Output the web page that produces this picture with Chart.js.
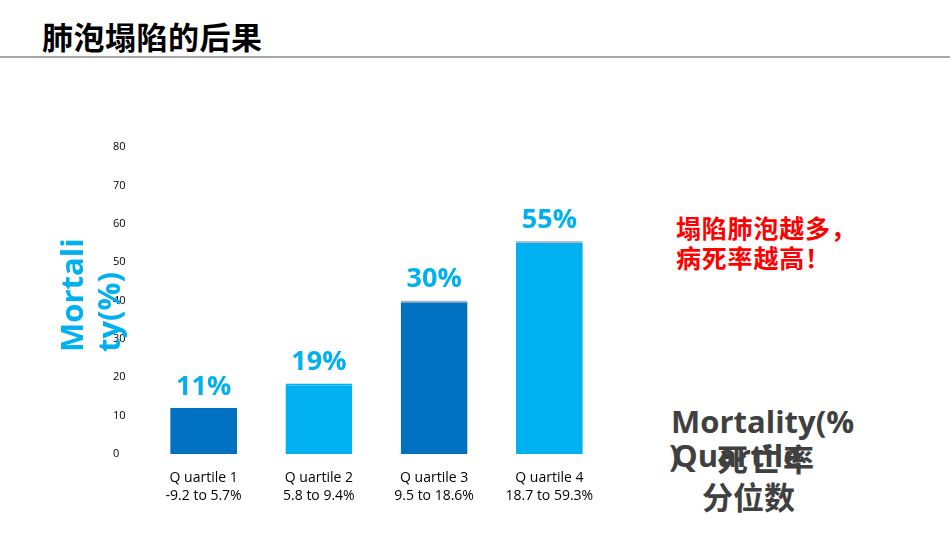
<!DOCTYPE html>
<html>
<head>
<meta charset="utf-8">
<script src="https://cdn.jsdelivr.net/npm/chart.js@4"></script>
<style>
  html, body { margin:0; padding:0; background:#fff; }
  body { width:950px; height:535px; position:relative; overflow:hidden; font-family:"Open Sans","Noto Sans CJK SC",sans-serif; }
  .abs { position:absolute; white-space:nowrap; }
  #title { left:42px; top:20px; font-family:"Noto Sans CJK SC"; font-weight:700; font-size:31px; line-height:31px; letter-spacing:0.5px; color:#000; }
  #rule { left:0; top:56px; width:950px; height:2px; background:#a6a6a6; }
  #ytitle { left:53px; top:352px; transform-origin:0 0; transform:rotate(-90deg); font-family:"Open Sans"; font-weight:700; font-size:31px; line-height:37px; color:#00B0F0; }
  #note { left:676px; top:212px; font-family:"Noto Sans CJK SC"; font-weight:700; font-size:25px; line-height:30px; letter-spacing:0.8px; color:#FF0000; }
  .gray { color:#404040; font-weight:700; font-family:"Open Sans","Noto Sans CJK SC"; font-size:31px; line-height:34px; }
  .cjk { font-family:"Noto Sans CJK SC"; }
  #chartBox { position:absolute; left:0; top:134px; width:620px; height:370px; }
</style>
</head>
<body>
<div id="title" class="abs">肺泡塌陷的后果</div>
<div id="rule" class="abs"></div>
<div id="chartBox"><canvas id="c"></canvas></div>
<div id="ytitle" class="abs">Mortali<br>ty(%)</div>
<div id="note" class="abs">塌陷肺泡越多，<br>病死率越高！</div>
<div class="abs gray" style="left:671px; top:404px;">Mortality(%</div>
<div class="abs gray" style="left:669px; top:438px;">)</div>
<div class="abs gray" style="left:673px; top:438px;">Quartile</div>
<div class="abs gray cjk" style="left:717px; top:442px; letter-spacing:2px; line-height:31px;">死亡率</div>
<div class="abs gray cjk" style="left:702px; top:480px; line-height:31px;">分位数</div>
<script>
const categories = [
  ["Q uartile 1", "-9.2 to 5.7%"],
  ["Q uartile 2", "5.8 to 9.4%"],
  ["Q uartile 3", "9.5 to 18.6%"],
  ["Q uartile 4", "18.7 to 59.3%"]
];
const mortalityValues = [12, 18.4, 40, 55.5];
const valueLabels = ["11%", "19%", "30%", "55%"];
const barColors = ["#0070C0", "#00B0F0", "#0070C0", "#00B0F0"];
const barTopColors = ["#0070C0", "#00B0F0", "#A8B4C0", "#B0BCC6"];
const yTickMin = 0, yTickMax = 80, yTickStep = 10;

const valueLabelPlugin = {
  id: 'valueLabels',
  afterDatasetsDraw(chart) {
    const ctx = chart.ctx;
    const meta = chart.getDatasetMeta(0);
    ctx.save();
    ctx.font = 'bold 27px "Open Sans"';
    ctx.fillStyle = '#00B0F0';
    ctx.textAlign = 'center';
    ctx.textBaseline = 'middle';
    meta.data.forEach((bar, i) => {
      ctx.fillText(valueLabels[i], bar.x, bar.y - 21);
    });
    ctx.restore();
  }
};

new Chart(document.getElementById('c'), {
  type: 'bar',
  data: {
    labels: categories,
    datasets: [{
      data: mortalityValues,
      backgroundColor: barColors,
      borderColor: barTopColors,
      borderWidth: { top: 2, left: 0, right: 0, bottom: 0 },
      borderSkipped: 'bottom',
      categoryPercentage: 1,
      barPercentage: 0.58
    }]
  },
  options: {
    responsive: true,
    maintainAspectRatio: false,
    animation: false,
    layout: { padding: { left: 113, right: 13, top: 13, bottom: 0 } },
    plugins: { legend: { display: false }, tooltip: { enabled: false } },
    scales: {
      x: {
        grid: { display: false, drawTicks: false },
        border: { display: false },
        ticks: { color: '#000', padding: 15, font: { family: 'Open Sans', size: 14, lineHeight: 1.3 }, maxRotation: 0 },
        afterFit(axis) { axis.height = 50; }
      },
      y: {
        min: yTickMin, max: yTickMax,
        grid: { display: false, drawTicks: false },
        border: { display: false },
        ticks: { stepSize: yTickStep, color: '#000', crossAlign: 'far', font: { family: 'Open Sans', size: 11 } },
        afterFit(axis) { axis.width = 33; }
      }
    }
  },
  plugins: [valueLabelPlugin]
});
</script>
</body>
</html>
